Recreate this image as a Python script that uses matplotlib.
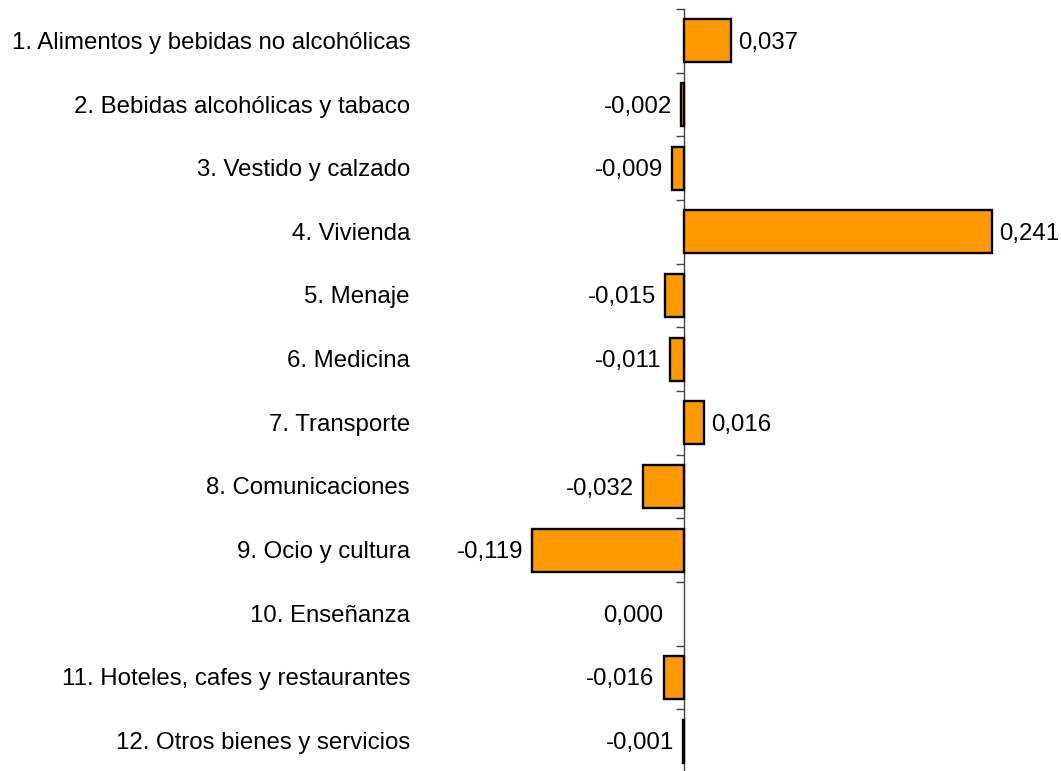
import matplotlib
matplotlib.use("Agg")
import matplotlib.pyplot as plt
from matplotlib.ticker import FixedLocator, NullLocator
from matplotlib.transforms import blended_transform_factory, offset_copy

plt.rcParams['font.family'] = ['Liberation Sans', 'DejaVu Sans']

categories = [
    "1. Alimentos y bebidas no alcohólicas",
    "2. Bebidas alcohólicas y tabaco",
    "3. Vestido y calzado",
    "4. Vivienda",
    "5. Menaje",
    "6. Medicina",
    "7. Transporte",
    "8. Comunicaciones",
    "9. Ocio y cultura",
    "10. Enseñanza",
    "11. Hoteles, cafes y restaurantes",
    "12. Otros bienes y servicios",
]
values = [0.037, -0.002, -0.009, 0.241, -0.015, -0.011, 0.016, -0.032, -0.119, 0.000, -0.016, -0.001]
value_labels = ["0,037", "-0,002", "-0,009", "0,241", "-0,015", "-0,011", "0,016", "-0,032", "-0,119", "0,000", "-0,016", "-0,001"]

W, H = 1061, 771
fig = plt.figure(figsize=(W / 100, H / 100), dpi=100)

x0_px, scale = 684, 1278.0
L, R = 440, 1055
top_px, bot_px = 9, 773
ax = fig.add_axes([L / W, (H - bot_px) / H, (R - L) / W, (bot_px - top_px) / H])
ax.set_xlim((L - x0_px) / scale, (R - x0_px) / scale)
n = len(categories)
ax.set_ylim(n - 0.5, -0.5)

ypos = list(range(n))
bars = ax.barh(ypos, values, height=0.68, color="#FF9900", edgecolor="black", linewidth=1.7, zorder=3)
for b, v in zip(bars, values):
    if v == 0:
        b.set_visible(False)

for s in ['top', 'right', 'bottom']:
    ax.spines[s].set_visible(False)
ax.spines['left'].set_position(('data', 0))
ax.spines['left'].set_color('#444444')
ax.spines['left'].set_linewidth(1.0)
ax.xaxis.set_major_locator(NullLocator())
ax.yaxis.set_major_locator(FixedLocator([i - 0.5 for i in range(n + 1)]))
ax.tick_params(axis='y', direction='out', length=6, width=1.0, color='#444444', labelleft=False)

fs = 17.3
dy = -2
trans_lbl = offset_copy(blended_transform_factory(fig.transFigure, ax.transData), fig=fig, x=0, y=dy, units='dots')
for y, c in zip(ypos, categories):
    ax.text(410 / W, y, c, transform=trans_lbl, ha='right', va='center', fontsize=fs)

for y, v, lab in zip(ypos, values, value_labels):
    if v > 0:
        t = offset_copy(ax.transData, fig=fig, x=7, y=dy, units='dots')
        ax.text(v, y, lab, transform=t, ha='left', va='center', fontsize=fs)
    elif v < 0:
        t = offset_copy(ax.transData, fig=fig, x=-9, y=dy, units='dots')
        ax.text(v, y, lab, transform=t, ha='right', va='center', fontsize=fs)
    else:
        t = offset_copy(ax.transData, fig=fig, x=-21, y=dy, units='dots')
        ax.text(v, y, lab, transform=t, ha='right', va='center', fontsize=fs)

fig.savefig("out.png", dpi=100)
